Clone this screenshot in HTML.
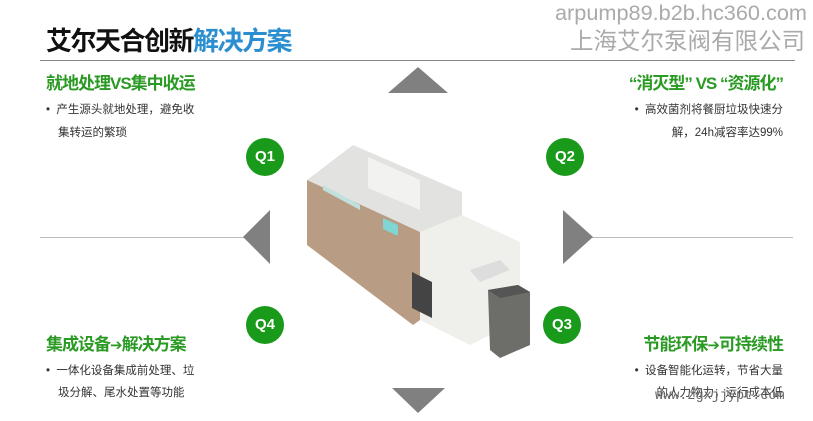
<!DOCTYPE html>
<html><head><meta charset="utf-8"><style>
body{margin:0;width:813px;height:421px;background:#fff;position:relative;overflow:hidden;font-family:"Liberation Sans","Noto Sans CJK SC",sans-serif}
.a{position:absolute;white-space:nowrap}
.h{color:#2b9a24;font-size:17px;font-weight:bold;letter-spacing:-1px}
.b{font-size:11.5px;color:#333}
.c{position:absolute;width:38px;height:38px;border-radius:50%;background:#1a9a1a;color:#fff;font-weight:bold;font-size:15px;text-align:center;line-height:38px}
.ar{font-family:"DejaVu Sans",sans-serif;font-size:15px}
</style></head><body>
<svg class="a" style="left:0;top:0" width="813" height="421">
<line x1="40" y1="60.5" x2="795" y2="60.5" stroke="#888" stroke-width="1"/>
<line x1="40" y1="237.5" x2="268" y2="237.5" stroke="#bbb"/>
<line x1="592" y1="237.5" x2="793" y2="237.5" stroke="#bbb"/>
<polygon points="388,93 418,67 448,93" fill="#808080"/>
<polygon points="243,237 270,210 270,264" fill="#808080"/>
<polygon points="563,210 563,264 593,237" fill="#808080"/>
<polygon points="392,388 445,388 418,413" fill="#808080"/>
<polygon points="307,180 353,145 462,192 462,220 420,232" fill="#e2e2e0"/>
<polygon points="307,180 420,232 420,320 413,325 307,245" fill="#b89c84"/>
<polygon points="420,232 462,215 520,242 520,320 470,345 420,320" fill="#efefec"/>
<polygon points="368,157 420,180 420,210 368,188" fill="#f2f2f0"/>
<polygon points="323,185 360,205 360,210 323,190" fill="#bfe0dc"/>
<polygon points="383,218 398,225 398,236 383,229" fill="#7fd6d2"/>
<polygon points="412,272 432,282 432,318 412,308" fill="#444"/>
<polygon points="470,270 500,260 510,270 480,282" fill="#ddd"/>
<polygon points="488,290 518,285 530,292 530,345 500,358 490,350" fill="#6d6d69"/>
<polygon points="488,290 518,285 530,292 500,298" fill="#555"/>
</svg>
<div class="a" style="left:46px;top:21px;font-size:26px;font-weight:bold;color:#111;letter-spacing:-1.5px">艾尔天合创新<span style="color:#2a8ed0">解决方案</span></div>
<div class="a" style="left:555px;top:0px;font-size:21.7px;color:#aaa">arpump89.b2b.hc360.com</div>
<div class="a" style="left:570px;top:22px;font-size:23.5px;color:#aaa">上海艾尔泵阀有限公司</div>
<div class="a h" style="left:46px;top:69px">就地处理VS集中收运</div>
<div class="a h" style="right:30px;top:69px">“消灭型” VS “资源化”</div>
<div class="a h" style="left:46px;top:330px">集成设备<span class="ar">➔</span>解决方案</div>
<div class="a h" style="right:30px;top:330px">节能环保<span class="ar">➔</span>可持续性</div>
<div class="a b" style="left:46px;top:101px">•&nbsp; 产生源头就地处理，避免收</div>
<div class="a b" style="left:58px;top:124px">集转运的繁琐</div>
<div class="a b" style="right:30px;top:101px">•&nbsp; 高效菌剂将餐厨垃圾快速分</div>
<div class="a b" style="right:30px;top:124px">解，24h减容率达99%</div>
<div class="a b" style="left:46px;top:362px">•&nbsp; 一体化设备集成前处理、垃</div>
<div class="a b" style="left:58px;top:384px">圾分解、尾水处置等功能</div>
<div class="a b" style="right:30px;top:362px">•&nbsp; 设备智能化运转，节省大量</div>
<div class="a b" style="right:30px;top:384px">的人力物力，运行成本低</div>
<div class="a" style="left:655px;top:389px;font-family:'Liberation Mono',monospace;font-size:13.5px;color:#666">www.zgxjjypt.com</div>
<div class="c" style="left:246px;top:138px">Q1</div>
<div class="c" style="left:546px;top:138px">Q2</div>
<div class="c" style="left:246px;top:306px">Q4</div>
<div class="c" style="left:543px;top:306px">Q3</div>
</body></html>
